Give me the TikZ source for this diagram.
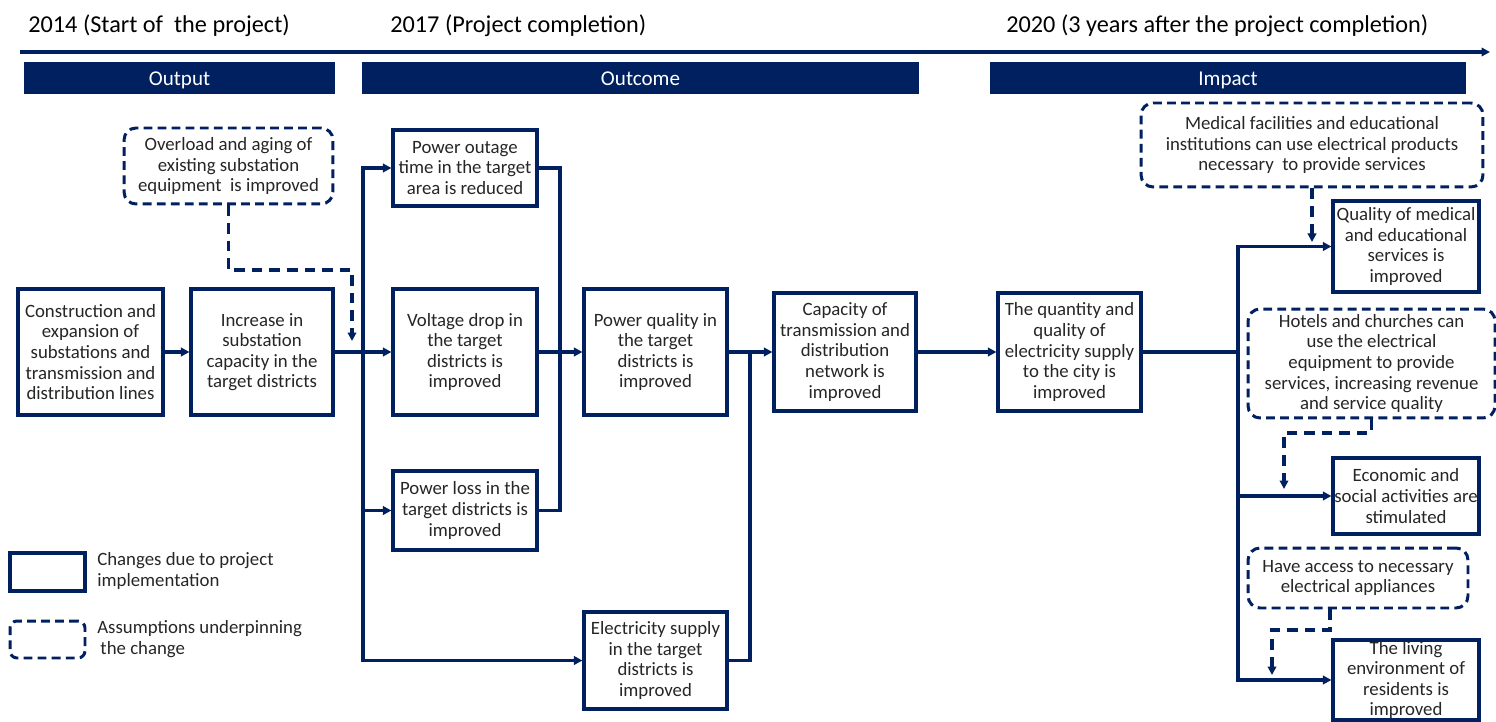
\documentclass[tikz,border=0pt]{standalone}
\usepackage{fontspec}
\setmainfont{Carlito}
\usetikzlibrary{arrows.meta}
\definecolor{navy}{HTML}{002060}
\definecolor{ink}{HTML}{262626}

\begin{document}
\begin{tikzpicture}[x=0.02cm, y=-0.02cm,
    every node/.style={inner sep=0pt, align=center, text=ink,
        font=\fontsize{10.7}{11.7}\selectfont},
    chg/.style={draw=navy, line width=1.8pt, fill=white},
    asm/.style={draw=navy, line width=1.7pt, dash pattern=on 5pt off 3pt,
        rounded corners=0.24cm, fill=white},
    band/.style={fill=navy, text=white, minimum height=0.64cm,
        text height=9pt, text depth=1pt, font=\fontsize{12}{14}\selectfont},
    year/.style={anchor=west, text=black, font=\fontsize{13.8}{16}\selectfont},
    conn/.style={draw=navy, line width=1.8pt},
    arr/.style={conn, -{Triangle[length=1.7mm,width=1.7mm]}},
    dasharr/.style={arr, dash pattern=on 6pt off 4pt}]
    \useasboundingbox (0,0) rectangle (1496,722);

    % time line
    \node[year] (y14) at (28,26) {2014 (Start of~ the project)};
    \node[year] (y17) at (390,26) {2017 (Project completion)};
    \node[year] (y20) at (1006,26) {2020 (3 years after the project completion)};
    \coordinate (tl0) at (20,52);
    \coordinate (tl1) at (1490,52);
    \draw[arr, line width=2pt] (tl0) -- (tl1);

    \node[band, minimum width=6.22cm] (output) at (179.5,78) {Output};
    \node[band, minimum width=11.14cm] (outcome) at (640.5,78) {Outcome};
    \node[band, minimum width=9.52cm] (impact) at (1228,78) {Impact};

    % output
    \node[chg, minimum width=2.9cm, minimum height=2.52cm] (cons) at (90.5,352)
        {Construction and\\expansion of\\substations and\\transmission and\\distribution lines};
    \node[chg, minimum width=2.84cm, minimum height=2.52cm] (incr) at (262,352)
        {Increase in\\substation\\capacity in the\\target districts};
    \node[asm, minimum width=4.18cm, minimum height=1.52cm] (overload) at (228.5,166)
        {Overload and aging of\\existing substation\\equipment~ is improved};

    % outcome
    \node[chg, minimum width=2.88cm, minimum height=1.52cm] (outage) at (465,168)
        {Power outage\\time in the target\\area is reduced};
    \node[chg, minimum width=2.88cm, minimum height=2.52cm] (vdrop) at (465,352)
        {Voltage drop in\\the target\\districts is\\improved};
    \node[chg, minimum width=2.88cm, minimum height=1.58cm] (ploss) at (465,510.5)
        {Power loss in the\\target districts is\\improved};
    \node[chg, minimum width=2.86cm, minimum height=2.52cm] (pqual) at (655.5,352)
        {Power quality in\\the target\\districts is\\improved};
    \node[chg, minimum width=2.86cm, minimum height=1.94cm] (esup) at (655.5,660.5)
        {Electricity supply\\in the target\\districts is\\improved};
    \node[chg, minimum width=2.84cm, minimum height=2.36cm] (capa) at (845,352)
        {Capacity of\\transmission and\\distribution\\network is\\improved};

    % impact
    \node[chg, minimum width=2.86cm, minimum height=2.36cm] (quant) at (1069.5,352)
        {The quantity and\\quality of\\electricity supply\\to the city is\\improved};
    \node[asm, minimum width=6.84cm, minimum height=1.68cm] (medfac) at (1312,145)
        {Medical facilities and educational\\institutions can use electrical products\\necessary~ to provide services};
    \node[chg, minimum width=2.92cm, minimum height=1.82cm] (qmed) at (1406,246.5)
        {Quality of medical\\and educational\\services is\\improved};
    \node[asm, minimum width=4.94cm, minimum height=2.18cm] (hotels) at (1371.5,363.5)
        {Hotels and churches can\\use the electrical\\equipment to provide\\services, increasing revenue\\and service quality};
    \node[chg, minimum width=2.92cm, minimum height=1.52cm] (econ) at (1406,496)
        {Economic and\\social activities are\\stimulated};
    \node[asm, minimum width=4.4cm, minimum height=1.2cm] (access) at (1358,578)
        {Have access to necessary\\electrical appliances};
    \node[chg, minimum width=2.92cm, minimum height=1.6cm] (living) at (1406,680)
        {The living\\environment of\\residents is\\improved};

    % legend
    \node[chg, minimum width=1.5cm, minimum height=0.76cm] (keychg) at (47.5,572) {};
    \node[anchor=west, align=left] (keychgtxt) at (97,571)
        {Changes due to project\\implementation};
    \node[asm, rounded corners=0.14cm, minimum width=1.5cm, minimum height=0.74cm] (keyasm) at (47.5,639.5) {};
    \node[anchor=west, align=left] (keyasmtxt) at (97,639)
        {Assumptions underpinning\\ \,the change};

    % connectors
    \coordinate (j1) at (363,352);
    \coordinate (j2) at (560,352);
    \coordinate (j3) at (750,352);
    \coordinate (j4) at (1238,352);
    \draw[arr] (cons) -- (incr);
    \draw[arr] (incr) -- (vdrop);
    \draw[arr] (j1) |- (outage.west);
    \draw[arr] (j1) |- (ploss.west);
    \draw[arr] (j1) |- (esup.west);
    \draw[conn] (outage.east) -| (j2);
    \draw[conn] (ploss.east) -| (j2);
    \draw[arr] (vdrop) -- (pqual);
    \draw[arr] (pqual) -- (capa);
    \draw[conn] (esup.east) -| (j3);
    \draw[arr] (capa) -- (quant);
    \draw[conn] (quant.east) -- (j4);
    \draw[arr] (j4) |- (qmed.west);
    \draw[arr] (j4) |- (econ.west);
    \draw[arr] (j4) |- (living.west);

    % assumptions
    \coordinate (bendA) at (352,270);
    \coordinate (tipA) at (352,341);
    \draw[dasharr] (overload.south) |- (bendA) -- (tipA);
    \coordinate (tipB) at (1312,242);
    \draw[dasharr] (medfac.south) -- (tipB);
    \coordinate (bendC) at (1284,433);
    \coordinate (tipC) at (1284,489);
    \draw[dasharr] (hotels.south) |- (bendC) -- (tipC);
    \coordinate (bendD) at (1272,630);
    \coordinate (tipD) at (1272,675);
    \draw[dasharr] ([xshift=-0.56cm]access.south) |- (bendD) -- (tipD);
\end{tikzpicture}
\end{document}
